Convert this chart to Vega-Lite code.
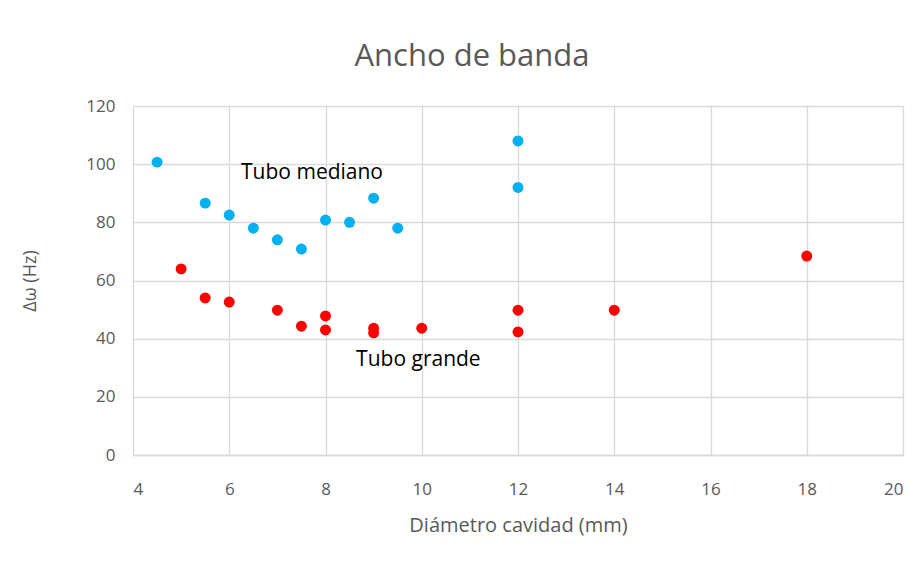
{
  "$schema": "https://vega.github.io/schema/vega-lite/v6.json",
  "width": 770,
  "height": 349,
  "autosize": {"type": "none"},
  "padding": {"left": 133, "top": 106, "right": 19, "bottom": 111},
  "background": "white",
  "title": {
    "text": "Ancho de banda",
    "font": "Open Sans",
    "fontSize": 31,
    "fontWeight": "normal",
    "color": "#595959",
    "anchor": "middle",
    "dx": -46,
    "offset": 24
  },
  "config": {
    "view": {"stroke": null},
    "axis": {
      "labelFont": "Open Sans",
      "labelFontSize": 17,
      "labelColor": "#595959",
      "titleFont": "Open Sans",
      "titleFontSize": 20,
      "titleFontWeight": "normal",
      "titleColor": "#595959",
      "gridColor": "#d9d9d9",
      "gridWidth": 1.3,
      "ticks": false
    }
  },
  "data": {
    "values": [
      {"d": 4.5, "bw": 100.7, "serie": "Tubo mediano"},
      {"d": 5.5, "bw": 86.6, "serie": "Tubo mediano"},
      {"d": 6, "bw": 82.5, "serie": "Tubo mediano"},
      {"d": 6.5, "bw": 78, "serie": "Tubo mediano"},
      {"d": 7, "bw": 74, "serie": "Tubo mediano"},
      {"d": 7.5, "bw": 70.8, "serie": "Tubo mediano"},
      {"d": 8, "bw": 80.8, "serie": "Tubo mediano"},
      {"d": 8.5, "bw": 80, "serie": "Tubo mediano"},
      {"d": 9, "bw": 88.3, "serie": "Tubo mediano"},
      {"d": 9.5, "bw": 78, "serie": "Tubo mediano"},
      {"d": 12, "bw": 108, "serie": "Tubo mediano"},
      {"d": 12, "bw": 92, "serie": "Tubo mediano"},
      {"d": 5, "bw": 64, "serie": "Tubo grande"},
      {"d": 5.5, "bw": 54, "serie": "Tubo grande"},
      {"d": 6, "bw": 52.6, "serie": "Tubo grande"},
      {"d": 7, "bw": 49.8, "serie": "Tubo grande"},
      {"d": 7.5, "bw": 44.3, "serie": "Tubo grande"},
      {"d": 8, "bw": 47.8, "serie": "Tubo grande"},
      {"d": 8, "bw": 43, "serie": "Tubo grande"},
      {"d": 9, "bw": 43.6, "serie": "Tubo grande"},
      {"d": 9, "bw": 42, "serie": "Tubo grande"},
      {"d": 10, "bw": 43.6, "serie": "Tubo grande"},
      {"d": 12, "bw": 49.8, "serie": "Tubo grande"},
      {"d": 12, "bw": 42.3, "serie": "Tubo grande"},
      {"d": 14, "bw": 49.8, "serie": "Tubo grande"},
      {"d": 18, "bw": 68.4, "serie": "Tubo grande"}
    ]
  },
  "layer": [
    {
      "mark": {"type": "point", "filled": true, "opacity": 1, "size": 120},
      "encoding": {
        "x": {
          "field": "d", "type": "quantitative",
          "scale": {"domain": [4, 20], "nice": false, "zero": false},
          "axis": {"values": [4, 6, 8, 10, 12, 14, 16, 18, 20], "title": "Diámetro cavidad (mm)", "labelPadding": 26, "titlePadding": 18, "domainColor": "#d9d9d9", "domainWidth": 1.3}
        },
        "y": {
          "field": "bw", "type": "quantitative",
          "scale": {"domain": [0, 120], "nice": false},
          "axis": {"values": [0, 20, 40, 60, 80, 100, 120], "title": "Δω (Hz)", "titleFontSize": 18, "labelPadding": 18, "titlePadding": 46, "domain": false}
        },
        "color": {
          "field": "serie", "type": "nominal",
          "scale": {"domain": ["Tubo mediano", "Tubo grande"], "range": ["#00B0F0", "#FF0000"]},
          "legend": null
        }
      }
    },
    {
      "data": {"values": [
        {"d": 7.72, "bw": 96.9, "label": "Tubo mediano"},
        {"d": 9.93, "bw": 32.6, "label": "Tubo grande"}
      ]},
      "mark": {"type": "text", "font": "Open Sans", "fontSize": 21, "color": "#000000", "align": "center", "baseline": "middle"},
      "encoding": {
        "x": {"field": "d", "type": "quantitative"},
        "y": {"field": "bw", "type": "quantitative"},
        "text": {"field": "label"}
      }
    }
  ]
}
